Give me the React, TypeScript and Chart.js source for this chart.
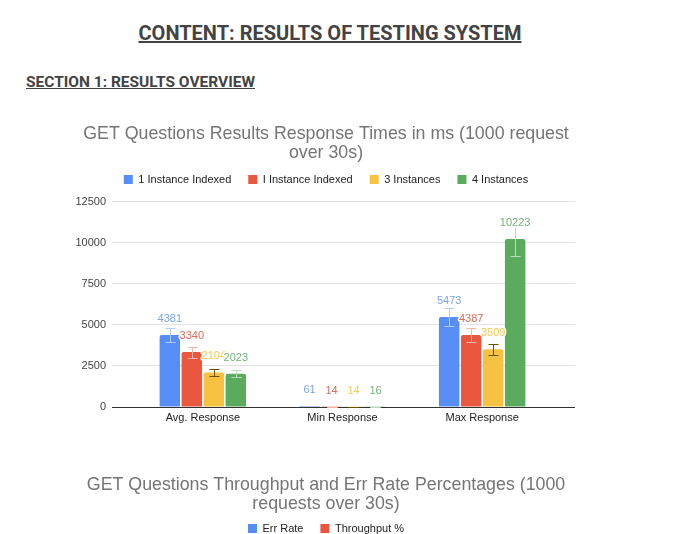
import React, { useEffect, useRef } from 'react';
import { Chart, registerables } from 'chart.js';

Chart.register(...registerables);

const FONT = '"Liberation Sans", Arial, sans-serif';

// ---- Chart 1 data ----
const categories = ['Avg. Response', 'Min Response', 'Max Response'];
const seriesNames = ['1 Instance Indexed', 'I Instance Indexed', '3 Instances', '4 Instances'];
const oneInstanceIndexed = [4381, 61, 5473];
const oneInstanceIndexedB = [3340, 14, 4387];
const threeInstances = [2104, 14, 3509];
const fourInstances = [2023, 16, 10223];
const oneInstanceIndexedErr = [438, 6, 547];
const oneInstanceIndexedBErr = [334, 1, 439];
const threeInstancesErr = [210, 1, 351];
const fourInstancesErr = [202, 2, 1022];
const yTickStep = 2500;
const yMax = 12500;
const chart1Title = ['GET Questions Results Response Times in ms (1000 request', 'over 30s)'];

// ---- Chart 2 (only title and legend visible) ----
const chart2Title = ['GET Questions Throughput and Err Rate Percentages (1000', 'requests over 30s)'];
const chart2Series = ['Err Rate', 'Throughput %'];
const chart2Categories: string[] = [];
const errRate: number[] = [];
const throughputPct: number[] = [];

const barColors = ['#578ef5', '#e9573f', '#f7c142', '#5bab5f'];
const labelColors = ['#7ba4ec', '#df6a5a', '#f4c84f', '#74b27a'];
const errorColors = ['#b3ccf7', '#f3b4aa', '#6b5400', '#b8dcb9'];

const errorBarsAndLabels = {
  id: 'errorBarsAndLabels',
  afterDatasetsDraw(chart: any) {
    const { ctx } = chart;
    const yScale = chart.scales.y;
    chart.data.datasets.forEach((ds: any, i: number) => {
      const meta = chart.getDatasetMeta(i);
      if (meta.hidden || !ds.errors) return;
      meta.data.forEach((bar: any, j: number) => {
        const v = ds.data[j];
        const e = ds.errors[j] ?? 0;
        const x = Math.round(bar.x) + 0.5;
        const yt = Math.round(yScale.getPixelForValue(v + e)) + 0.5;
        const yb = Math.round(yScale.getPixelForValue(Math.max(0, v - e))) + 0.5;
        ctx.save();
        ctx.strokeStyle = ds.errorColor;
        ctx.lineWidth = 1;
        ctx.beginPath();
        ctx.moveTo(x, yt);
        ctx.lineTo(x, yb);
        ctx.moveTo(x - 5, yt);
        ctx.lineTo(x + 5, yt);
        ctx.moveTo(x - 5, yb);
        ctx.lineTo(x + 5, yb);
        ctx.stroke();
        ctx.restore();
      });
    });
    chart.data.datasets.forEach((ds: any, i: number) => {
      const meta = chart.getDatasetMeta(i);
      if (meta.hidden || !ds.labelColor) return;
      meta.data.forEach((bar: any, j: number) => {
        ctx.save();
        ctx.font = `11px ${FONT}`;
        ctx.textAlign = 'center';
        ctx.textBaseline = 'middle';
        ctx.lineJoin = 'round';
        ctx.strokeStyle = '#ffffff';
        ctx.lineWidth = 3;
        const txt = String(ds.data[j]);
        ctx.strokeText(txt, bar.x, bar.y - 16);
        ctx.fillStyle = ds.labelColor;
        ctx.fillText(txt, bar.x, bar.y - 16);
        ctx.restore();
      });
    });
  },
};

const gridColor = (c: any) => (c.tick && c.tick.value === 0 ? '#333333' : '#e3e3e3');

export default function App() {
  const c1 = useRef<HTMLCanvasElement>(null);
  const c2 = useRef<HTMLCanvasElement>(null);

  useEffect(() => {
    const series = [oneInstanceIndexed, oneInstanceIndexedB, threeInstances, fourInstances];
    const errs = [oneInstanceIndexedErr, oneInstanceIndexedBErr, threeInstancesErr, fourInstancesErr];
    const ch1 = new Chart(c1.current!, {
      type: 'bar',
      data: {
        labels: categories,
        datasets: series.map((d, i) => ({
          label: seriesNames[i],
          data: d,
          errors: errs[i],
          errorColor: errorColors[i],
          labelColor: labelColors[i],
          backgroundColor: barColors[i],
          borderWidth: 0,
          borderRadius: { topLeft: 2, topRight: 2, bottomLeft: 0, bottomRight: 0 },
          borderSkipped: 'start',
          categoryPercentage: 0.63,
          barPercentage: 0.93,
        })) as any,
      },
      options: {
        animation: false,
        responsive: true,
        maintainAspectRatio: false,
        layout: { padding: { left: 70, right: 116, top: 0, bottom: 16.8 } },
        plugins: {
          title: {
            display: true,
            text: chart1Title,
            color: '#757575',
            font: { family: FONT, size: 17.8, weight: 'normal', lineHeight: '19px' },
            padding: { top: 10, bottom: -6 },
          },
          subtitle: {
            display: true,
            text: '',
            weight: 500,
            font: { family: FONT, size: 1, lineHeight: '1px' },
            padding: { top: 0, bottom: 5.5 },
          } as any,
          legend: {
            display: true,
            position: 'top',
            labels: {
              boxWidth: 9,
              boxHeight: 9,
              padding: 17,
              color: '#222222',
              font: { family: FONT, size: 11 },
            },
          },
          tooltip: { enabled: false },
        },
        scales: {
          x: {
            grid: { display: false, drawTicks: false, tickLength: 0 },
            border: { display: false },
            ticks: { color: '#222222', font: { family: FONT, size: 11 }, padding: 4, maxRotation: 0 },
          },
          y: {
            position: 'left',
            min: 0,
            max: yMax,
            ticks: {
              stepSize: yTickStep,
              color: '#444444',
              font: { family: FONT, size: 11 },
              padding: 6,
              callback: (v: any) => String(v),
            },
            grid: { color: gridColor, tickColor: gridColor, tickLength: 21, drawTicks: true },
            border: { display: false },
            afterFit: (s: any) => {
              s.width = 63;
            },
          },
          y2: {
            position: 'right',
            min: 0,
            max: yMax,
            ticks: { display: false, stepSize: yTickStep },
            grid: { drawOnChartArea: false, color: gridColor, tickColor: gridColor, tickLength: 23, drawTicks: true },
            border: { display: false },
            afterFit: (s: any) => {
              s.width = 30;
            },
          },
        },
      } as any,
      plugins: [errorBarsAndLabels],
    });

    const ch2 = new Chart(c2.current!, {
      type: 'bar',
      data: {
        labels: chart2Categories,
        datasets: [
          { label: chart2Series[0], data: errRate, backgroundColor: barColors[0], borderWidth: 0 },
          { label: chart2Series[1], data: throughputPct, backgroundColor: barColors[1], borderWidth: 0 },
        ],
      },
      options: {
        animation: false,
        responsive: true,
        maintainAspectRatio: false,
        layout: { padding: { left: 70, right: 116, top: 0, bottom: 0 } },
        plugins: {
          title: {
            display: true,
            text: chart2Title,
            color: '#757575',
            font: { family: FONT, size: 17.8, weight: 'normal', lineHeight: '19px' },
            padding: { top: 11, bottom: -8 },
          },
          legend: {
            display: true,
            position: 'top',
            labels: {
              boxWidth: 9,
              boxHeight: 9,
              padding: 17,
              color: '#222222',
              font: { family: FONT, size: 11 },
            },
          },
          tooltip: { enabled: false },
        },
        scales: { x: { display: false }, y: { display: false } },
      } as any,
    });

    return () => {
      ch1.destroy();
      ch2.destroy();
    };
  }, []);

  return (
    <div
      style={{
        position: 'absolute',
        left: 0,
        top: 0,
        width: 698,
        height: 534,
        overflow: 'hidden',
        background: '#ffffff',
      }}
    >
      <div
        style={{
          position: 'absolute',
          left: 0,
          top: 22.8,
          width: 660,
          textAlign: 'center',
          fontFamily: 'Roboto, sans-serif',
          fontWeight: 700,
          fontSize: 20,
          lineHeight: '20px',
          color: '#434343',
          textDecoration: 'underline',
          whiteSpace: 'nowrap',
        }}
      >
        CONTENT: RESULTS OF TESTING SYSTEM
      </div>
      <div
        style={{
          position: 'absolute',
          left: 26,
          top: 74.5,
          fontFamily: 'Roboto, sans-serif',
          fontWeight: 700,
          fontSize: 15.5,
          lineHeight: '15.5px',
          color: '#434343',
          textDecoration: 'underline',
          whiteSpace: 'nowrap',
        }}
      >
        SECTION 1: RESULTS OVERVIEW
      </div>
      <div style={{ position: 'absolute', left: 0, top: 115, width: 698, height: 330 }}>
        <canvas ref={c1} />
      </div>
      <div style={{ position: 'absolute', left: 0, top: 465, width: 698, height: 120 }}>
        <canvas ref={c2} />
      </div>
    </div>
  );
}
